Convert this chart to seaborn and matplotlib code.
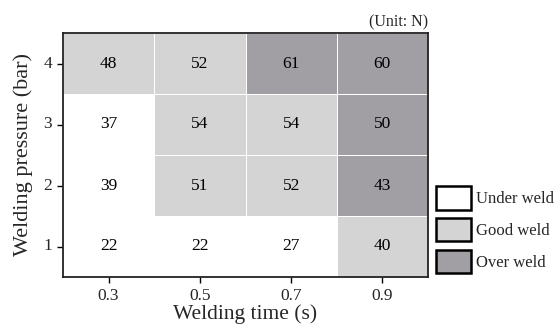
import numpy as np
import pandas as pd
import seaborn as sns
import matplotlib.pyplot as plt
from matplotlib.colors import ListedColormap
from matplotlib.patches import Patch

# welding time (s) and pressure (bar)
times = ["0.3", "0.5", "0.7", "0.9"]
pressures = ["4", "3", "2", "1"]

# strength values (N), top row = 4 bar
force_4 = [48, 52, 61, 60]
force_3 = [37, 54, 54, 50]
force_2 = [39, 51, 52, 43]
force_1 = [22, 22, 27, 40]

# weld quality: 0 under, 1 good, 2 over
quality_4 = [1, 1, 2, 2]
quality_3 = [0, 1, 1, 2]
quality_2 = [0, 1, 1, 2]
quality_1 = [0, 0, 0, 1]

classes = ["Under weld", "Good weld", "Over weld"]
colors = ["#ffffff", "#d4d4d4", "#a19fa4"]

force = pd.DataFrame([force_4, force_3, force_2, force_1], index=pressures, columns=times)
quality = pd.DataFrame([quality_4, quality_3, quality_2, quality_1], index=pressures, columns=times)

sns.set_style("white")
plt.rcParams["font.family"] = ["Liberation Serif", "DejaVu Serif"]

fig = plt.figure(figsize=(5.57, 3.29), dpi=100)
ax = fig.add_axes([63 / 557, 1 - 277 / 329, 365 / 557, 244 / 329])

sns.heatmap(quality, ax=ax, cmap=ListedColormap(colors), vmin=-0.5, vmax=2.5,
            annot=force, fmt="d", annot_kws={"color": "black", "fontsize": 12.5},
            cbar=False, linewidths=0.6, linecolor="white")

for s in ax.spines.values():
    s.set_visible(True)
    s.set_color("#222222")
    s.set_linewidth(1.3)

ax.tick_params(axis="both", which="both", length=4, width=1, color="black",
               labelsize=12.5, bottom=True, left=True, pad=4)
ax.set_yticklabels(pressures, rotation=0)
ax.set_xticklabels(times, rotation=0)
ax.set_xlabel("Welding time (s)", fontsize=15.5, labelpad=0)
ax.set_ylabel("Welding pressure (bar)", fontsize=16, labelpad=7)
ax.text(1.0, 1.012, "(Unit: N)", transform=ax.transAxes, ha="right", va="bottom", fontsize=11.5)

handles = [Patch(facecolor=c, edgecolor="black", linewidth=1.8, label=l) for c, l in zip(colors, classes)]
fig.legend(handles=handles, loc="lower left", bbox_to_anchor=(436 / 557, 1 - 273 / 329),
           frameon=False, fontsize=12, handlelength=2.1, handleheight=1.78,
           handletextpad=0.3, labelspacing=0.5, borderaxespad=0, borderpad=0)

plt.savefig("out.png", dpi=100)
